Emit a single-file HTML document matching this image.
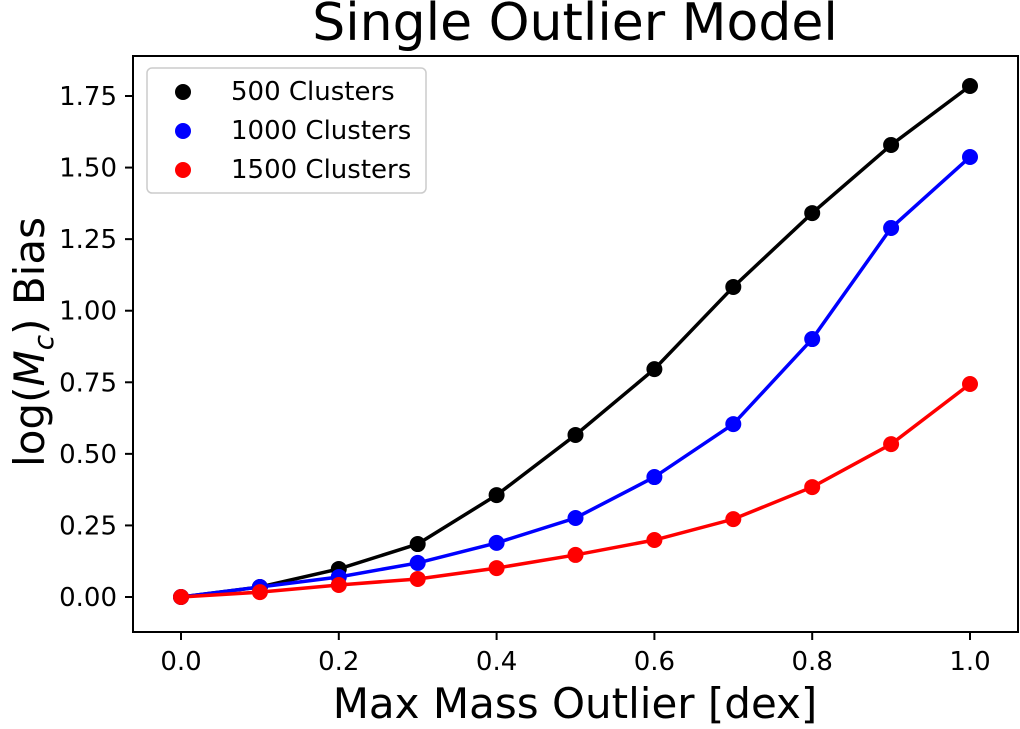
<!DOCTYPE html>
<html><head><meta charset="utf-8"><style>
body{margin:0;background:#fff;width:1020px;height:724px;overflow:hidden}
text{font-family:"DejaVu Sans","Liberation Sans",sans-serif}
</style></head><body>
<svg id="chart" width="1020" height="724" xmlns="http://www.w3.org/2000/svg">
<text x="575" y="40" font-size="52" text-anchor="middle">Single Outlier Model</text>
<text x="575" y="718" font-size="42" text-anchor="middle">Max Mass Outlier [dex]</text>
<text transform="translate(44,342) rotate(-90)" font-size="42" text-anchor="middle">log(<tspan font-style="italic">M</tspan><tspan font-style="italic" font-size="28" dy="9">c</tspan><tspan dy="-9">) Bias</tspan></text>
<g id="ticks"></g>
<g id="series"></g>
<rect x="133" y="56" width="885" height="576" fill="none" stroke="#000" stroke-width="2"/>
<g>
<rect x="147" y="68" width="279" height="125" rx="5" fill="#fff" stroke="#ccc" stroke-width="1.5"/>
<circle cx="183" cy="92" r="8" fill="#000"/><text x="231" y="100" font-size="26">500 Clusters</text>
<circle cx="183" cy="131" r="8" fill="#0000ff"/><text x="231" y="139" font-size="26">1000 Clusters</text>
<circle cx="183" cy="170" r="8" fill="#ff0000"/><text x="231" y="178" font-size="26">1500 Clusters</text>
</g>
</svg>
<script>
const xValues=[0,0.1,0.2,0.3,0.4,0.5,0.6,0.7,0.8,0.9,1.0];
const series500=[0,0.035,0.098,0.185,0.356,0.566,0.796,1.083,1.341,1.579,1.785];
const series1000=[0,0.035,0.07,0.119,0.189,0.276,0.419,0.604,0.901,1.289,1.537];
const series1500=[0,0.017,0.042,0.063,0.101,0.147,0.199,0.272,0.384,0.534,0.744];
const xTicks=[0,0.2,0.4,0.6,0.8,1.0];
const xTickLabels=["0.0","0.2","0.4","0.6","0.8","1.0"];
const yTicks=[0,0.25,0.5,0.75,1.0,1.25,1.5,1.75];
const yTickLabels=["0.00","0.25","0.50","0.75","1.00","1.25","1.50","1.75"];
const NS="http://www.w3.org/2000/svg";
function sx(v){return 181+v*789;}
function sy(v){return 597-v*(597-96)/1.75;}
const tg=document.getElementById('ticks');
function mk(tag,attrs,parent){const e=document.createElementNS(NS,tag);for(const k in attrs)e.setAttribute(k,attrs[k]);parent.appendChild(e);return e;}
xTicks.forEach((t,i)=>{
  const l=mk('line',{x1:sx(t),x2:sx(t),y1:632,y2:640,stroke:'#000','stroke-width':2},tg);
  
  
  const tx=mk('text',{x:sx(t),y:670,'font-size':26,'text-anchor':'middle'},tg);
  
  
  tx.textContent=xTickLabels[i];
});
yTicks.forEach((t,i)=>{
  const l=mk('line',{x1:125,x2:133,y1:sy(t),y2:sy(t),stroke:'#000','stroke-width':2},tg);
  
  
  const tx=mk('text',{x:117,y:sy(t)+9,'font-size':26,'text-anchor':'end'},tg);
  
  
  tx.textContent=yTickLabels[i];
});
const sg=document.getElementById('series');
[[series500,'#000','500'],[series1000,'#0000ff','1000'],[series1500,'#ff0000','1500']].forEach(([d,c,n])=>{
  const p=mk('polyline',{points:d.map((v,i)=>sx(xValues[i])+','+sy(v)).join(' '),fill:'none',stroke:c,'stroke-width':3.5},sg);
  
  
  d.forEach((v,i)=>{
    const ci=mk('circle',{cx:sx(xValues[i]),cy:sy(v),r:8,fill:c},sg);
    
    
  });
});
</script>
</body></html>
